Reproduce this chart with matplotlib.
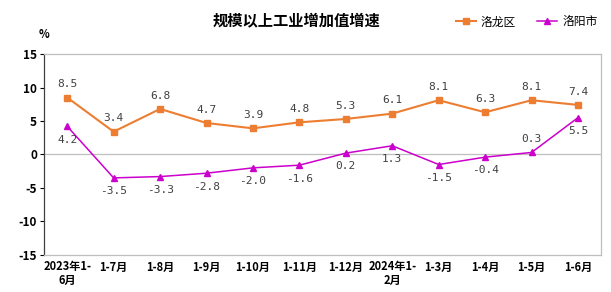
import matplotlib.pyplot as plt

plt.rcParams['font.family'] = ['Noto Sans CJK SC', 'DejaVu Sans']
plt.rcParams['axes.unicode_minus'] = False

# 数据
months = ['2023年1-\n6月', '1-7月', '1-8月', '1-9月', '1-10月', '1-11月', '1-12月',
          '2024年1-\n2月', '1-3月', '1-4月', '1-5月', '1-6月']
luolong = [8.5, 3.4, 6.8, 4.7, 3.9, 4.8, 5.3, 6.1, 8.1, 6.3, 8.1, 7.4]
luoyang = [4.2, -3.5, -3.3, -2.8, -2.0, -1.6, 0.2, 1.3, -1.5, -0.4, 0.3, 5.5]
# 洛阳市标签位置: 1=上方, -1=下方
luoyang_pos = [-1, -1, -1, -1, -1, -1, -1, -1, -1, -1, 1, -1]

orange = '#ED7D31'
magenta = '#CC00CC'
label_color = '#404040'

fig = plt.figure(figsize=(6.11, 2.92), dpi=100)
ax = fig.add_axes([0.072, 0.127, 0.912, 0.688])

x = list(range(len(months)))
ax.axhline(0, color='#BFBFBF', lw=0.9, zorder=1)
ax.plot(x, luolong, color=orange, lw=1.5, marker='s', ms=4.5, label='洛龙区', zorder=3)
ax.plot(x, luoyang, color=magenta, lw=1.1, marker='^', ms=5, label='洛阳市', zorder=3)

for i, v in enumerate(luolong):
    ax.annotate(f'{v:.1f}', (i, v), xytext=(0, 6), textcoords='offset points',
                ha='center', va='bottom', fontsize=8, color=label_color,
                family='DejaVu Sans Mono')
for i, v in enumerate(luoyang):
    s = f'{v:.1f}'
    if luoyang_pos[i] > 0:
        ax.annotate(s, (i, v), xytext=(0, 6), textcoords='offset points',
                    ha='center', va='bottom', fontsize=8, color=label_color,
                    family='DejaVu Sans Mono')
    else:
        ax.annotate(s, (i, v), xytext=(0, -6), textcoords='offset points',
                    ha='center', va='top', fontsize=8, color=label_color,
                    family='DejaVu Sans Mono')

ax.set_xlim(-0.5, len(months) - 0.5)
ax.set_ylim(-15, 15)
ax.set_yticks([-15, -10, -5, 0, 5, 10, 15])
ax.set_xticks(x)
ax.set_xticklabels(months, fontsize=8, fontweight='bold', linespacing=1.0)
for t in ax.get_yticklabels():
    t.set_fontsize(8.5)
    t.set_fontweight('bold')
ax.tick_params(axis='x', length=0, pad=4)
ax.tick_params(axis='y', length=3, width=0.8, pad=2)

for side in ['top', 'right', 'bottom']:
    ax.spines[side].set_color('#BFBFBF')
    ax.spines[side].set_linewidth(0.9)
ax.spines['left'].set_color('#404040')
ax.spines['left'].set_linewidth(0.9)

fig.text(0.063, 0.87, '%', fontsize=8, fontweight='bold')
fig.text(0.485, 0.93, '规模以上工业增加值增速', fontsize=11, fontweight='bold',
         ha='center', va='center')
ax.legend(loc='center right', bbox_to_anchor=(1.012, 1.16), ncol=2, frameon=False,
          fontsize=8.5, handlelength=1.7, columnspacing=1.8, handletextpad=0.4)

fig.savefig('out.png', dpi=100)
